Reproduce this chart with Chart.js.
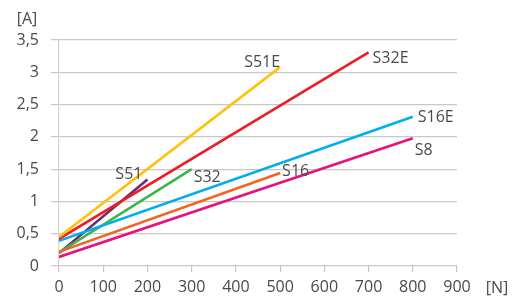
<!DOCTYPE html>
<html lang="en">
<head>
    <meta charset="UTF-8">
    <title>Current vs load</title>
    <script src="https://cdn.jsdelivr.net/npm/chart.js"></script>
    <style>
        body { margin: 0; background: #fff; }
        #wrap { width: 523px; height: 297px; position: relative; }
    </style>
</head>
<body>
    <div id="wrap"><canvas id="chart"></canvas></div>
    <script>
        // Series data (load in N, current in A)
        const seriesNames = ['S51E', 'S32E', 'S16E', 'S8', 'S16', 'S32', 'S51'];
        const seriesColors = ['#ffc20e', '#ee1c25', '#00aeef', '#e6137f', '#f26522', '#3cb44a', '#6b2d6e'];
        const loadPoints = [
            [0, 500],
            [0, 700],
            [0, 800],
            [0, 800],
            [0, 500],
            [0, 300],
            [0, 200]
        ];
        const currentPoints = [
            [0.45, 3.08],
            [0.42, 3.31],
            [0.39, 2.31],
            [0.14, 1.98],
            [0.22, 1.44],
            [0.21, 1.50],
            [0.20, 1.34]
        ];
        // label placement relative to each line's end point (pixels)
        const labelOffsets = [
            { dx: 0, dy: -5, align: 'right' },
            { dx: 4, dy: 6, align: 'left' },
            { dx: 5, dy: 1, align: 'left' },
            { dx: 2, dy: 12, align: 'left' },
            { dx: 2, dy: -2, align: 'left' },
            { dx: 2, dy: 8, align: 'left' },
            { dx: -5, dy: -5, align: 'right' }
        ];
        const xTicks = [0, 100, 200, 300, 400, 500, 600, 700, 800, 900];
        const yTicks = [0, 0.5, 1, 1.5, 2, 2.5, 3, 3.5];

        const textColor = '#4a4a4a';
        const fontFamily = '"Open Sans", sans-serif';

        const datasets = seriesNames.map((name, i) => ({
            label: name,
            data: loadPoints[i].map((x, j) => ({ x: x, y: currentPoints[i][j] })),
            borderColor: seriesColors[i],
            backgroundColor: seriesColors[i],
            borderWidth: 2.6,
            pointRadius: 0,
            tension: 0
        }));

        // draws the series names next to the line ends, plus the unit labels
        const annotations = {
            id: 'annotations',
            afterDatasetsDraw(chart) {
                const c = chart.ctx;
                const xs = chart.scales.x, ys = chart.scales.y;
                c.save();
                c.fillStyle = textColor;
                c.font = '16px ' + fontFamily;
                c.textBaseline = 'middle';
                seriesNames.forEach((name, i) => {
                    const last = loadPoints[i].length - 1;
                    const px = xs.getPixelForValue(loadPoints[i][last]);
                    const py = ys.getPixelForValue(currentPoints[i][last]);
                    const o = labelOffsets[i];
                    c.textAlign = o.align;
                    c.fillText(name, px + o.dx, py + o.dy);
                });
                c.textAlign = 'center';
                c.fillText('[A]', 27, 19);
                c.fillText('[N]', 497, 288);
                c.restore();
            }
        };

        new Chart(document.getElementById('chart'), {
            type: 'line',
            data: { datasets: datasets },
            options: {
                responsive: true,
                maintainAspectRatio: false,
                animation: false,
                layout: { padding: { top: 40, right: 66, left: 0, bottom: 0 } },
                plugins: { legend: { display: false }, tooltip: { enabled: false } },
                scales: {
                    x: {
                        type: 'linear',
                        min: 0,
                        max: 900,
                        afterBuildTicks: axis => { axis.ticks = xTicks.map(v => ({ value: v })); },
                        grid: {
                            drawOnChartArea: false,
                            drawTicks: true,
                            tickLength: 6,
                            color: '#c4c4c4',
                            lineWidth: 1.2
                        },
                        border: { display: false },
                        ticks: {
                            color: textColor,
                            font: { family: fontFamily, size: 16 },
                            padding: 6,
                            maxRotation: 0,
                            autoSkip: false
                        },
                        afterFit: axis => { axis.height = 31; }
                    },
                    y: {
                        min: 0,
                        max: 3.5,
                        afterBuildTicks: axis => { axis.ticks = yTicks.map(v => ({ value: v })); },
                        grid: {
                            color: '#c8c8c8',
                            lineWidth: 1.2,
                            tickLength: 8
                        },
                        border: { display: true, color: '#d4d4d4', width: 1.2 },
                        ticks: {
                            color: textColor,
                            font: { family: fontFamily, size: 16 },
                            padding: 12,
                            callback: v => String(v).replace('.', ',')
                        },
                        afterFit: axis => { axis.width = 59; }
                    }
                }
            },
            plugins: [annotations]
        });
    </script>
</body>
</html>
